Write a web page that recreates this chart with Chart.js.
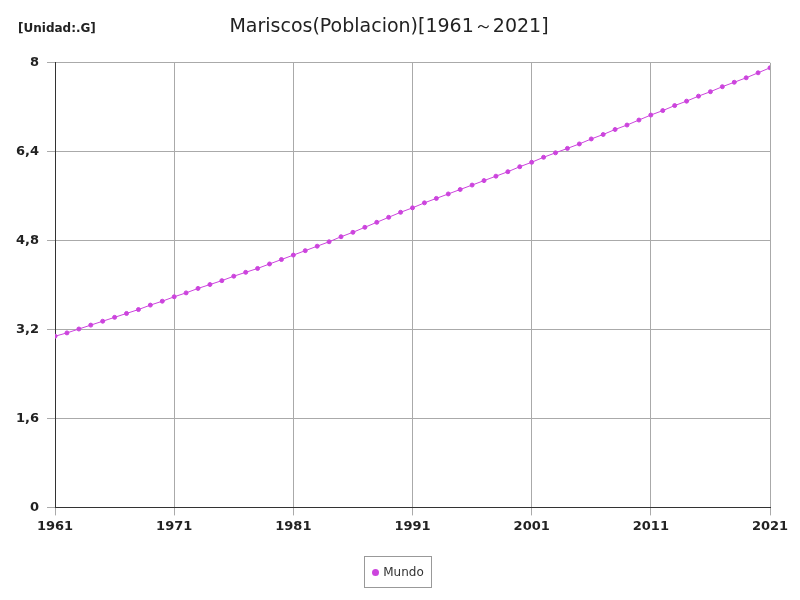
<!DOCTYPE html>
<html>
<head>
<meta charset="utf-8">
<script src="https://cdn.jsdelivr.net/npm/chart.js@4"></script>
<style>
  body { margin: 0; background: #fff; }
  #wrap { position: relative; width: 800px; height: 600px; }
  #unit { position: absolute; left: 18px; top: 21px; font: bold 12px "DejaVu Sans", sans-serif; color: #222; }
  #legend { position: absolute; left: 364px; top: 556px; width: 68px; height: 32px; border: 1px solid #999; box-sizing: border-box;
    font: 12px "DejaVu Sans", sans-serif; color: #333; display: flex; align-items: center; justify-content: center; }
  #legend span { display: inline-block; width: 7px; height: 7px; border-radius: 50%; background: #cc44dd; margin-right: 4px; }
</style>
</head>
<body>
<div id="wrap">
  <canvas id="c" width="800" height="600"></canvas>
  <div id="unit">[Unidad:.G]</div>
  <div id="legend"><span></span>Mundo</div>
</div>
<script>
const years = [];
for (let y = 1961; y <= 2021; y++) years.push(y);
const mundo = [3.08, 3.14, 3.21, 3.28, 3.35, 3.42, 3.49, 3.56, 3.64, 3.71,
  3.79, 3.86, 3.94, 4.01, 4.08, 4.16, 4.23, 4.30, 4.38, 4.46,
  4.54, 4.62, 4.70, 4.78, 4.87, 4.95, 5.04, 5.13, 5.22, 5.31,
  5.39, 5.48, 5.56, 5.64, 5.72, 5.80, 5.88, 5.96, 6.04, 6.13,
  6.21, 6.30, 6.38, 6.46, 6.54, 6.63, 6.71, 6.80, 6.88, 6.97,
  7.06, 7.14, 7.23, 7.31, 7.40, 7.48, 7.57, 7.65, 7.73, 7.82, 7.91];
const yTicks = [0, 1.6, 3.2, 4.8, 6.4, 8];

new Chart(document.getElementById('c'), {
  type: 'line',
  data: {
    datasets: [{
      label: 'Mundo',
      data: years.map((y, i) => ({ x: y, y: mundo[i] })),
      borderColor: '#cc44dd',
      backgroundColor: '#cc44dd',
      borderWidth: 1,
      pointRadius: 2,
      pointHoverRadius: 2
    }]
  },
  options: {
    responsive: false,
    animation: false,
    layout: { padding: { left: 8, right: 30, top: 8, bottom: 63 } },
    plugins: {
      legend: { display: false },
      title: {
        display: true,
        text: 'Mariscos(Poblacion)[1961～2021]',
        font: { family: 'DejaVu Sans', size: 19, weight: 'normal' },
        color: '#222',
        padding: { top: 8, bottom: 24 }
      }
    },
    scales: {
      x: {
        type: 'linear', min: 1961, max: 2021,
        afterBuildTicks: s => { s.ticks = [1961, 1971, 1981, 1991, 2001, 2011, 2021].map(v => ({ value: v })); },
        ticks: { callback: v => String(v), font: { family: 'DejaVu Sans', size: 13, weight: 'bold' }, color: '#222', maxRotation: 0 },
        grid: { color: '#aaa' },
        border: { color: '#333' }
      },
      y: {
        min: 0, max: 8,
        afterBuildTicks: s => { s.ticks = yTicks.map(v => ({ value: v })); },
        ticks: { callback: v => String(v).replace('.', ','), font: { family: 'DejaVu Sans', size: 13, weight: 'bold' }, color: '#222', padding: 8 },
        grid: { color: '#aaa' },
        border: { color: '#333' }
      }
    }
  }
});
</script>
</body>
</html>
